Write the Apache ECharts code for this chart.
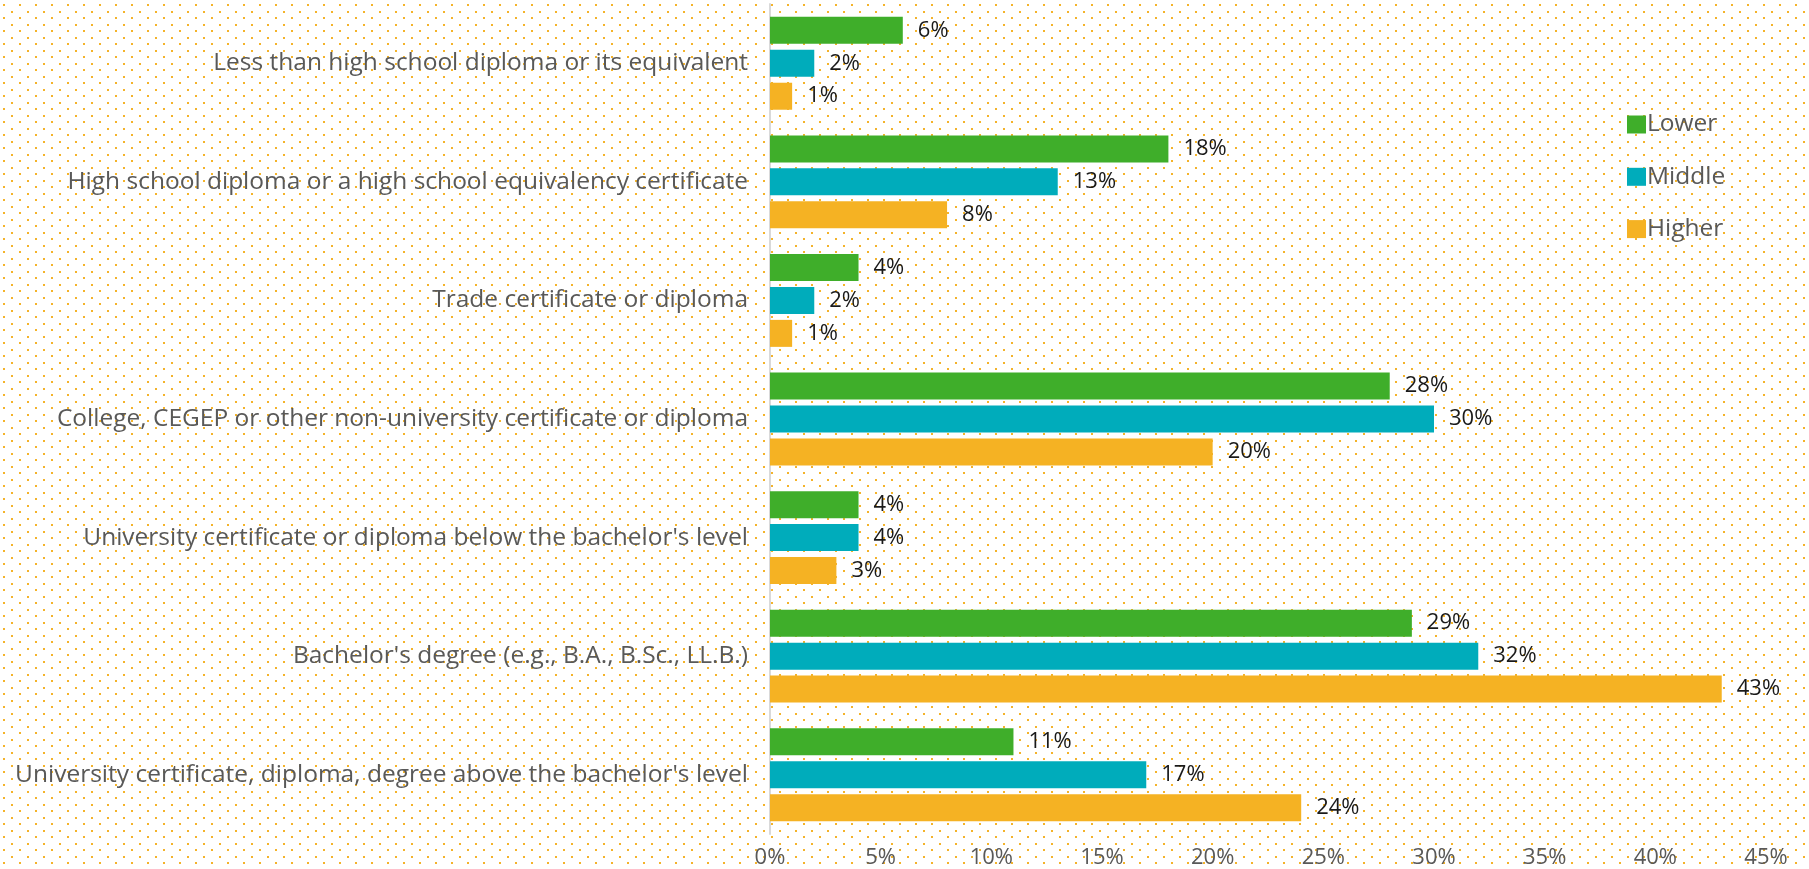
<!DOCTYPE html>
<html>
<head>
<meta charset="utf-8">
<script src="https://cdn.jsdelivr.net/npm/echarts@6/dist/echarts.min.js"></script>
<style>
html,body{margin:0;padding:0;background:#fff;}
#chart{width:1809px;height:869px;}
</style>
</head>
<body>
<div id="chart"></div>
<script>
var categories = [
  "Less than high school diploma or its equivalent",
  "High school diploma or a high school equivalency certificate",
  "Trade certificate or diploma",
  "College, CEGEP or other non-university certificate or diploma",
  "University certificate or diploma below the bachelor's level",
  "Bachelor's degree (e.g., B.A., B.Sc., LL.B.)",
  "University certificate, diploma, degree above the bachelor's level"
];
var seriesNames = ["Lower", "Middle", "Higher"];
var lowerValues = [6, 18, 4, 28, 4, 29, 11];
var middleValues = [2, 13, 2, 30, 4, 32, 17];
var higherValues = [1, 8, 1, 20, 3, 43, 24];
var colors = ["#3fae2a", "#00acbb", "#f5b223"];

// dotted background
var tile = document.createElement('canvas');
tile.width = 16; tile.height = 13;
var tctx = tile.getContext('2d');
tctx.fillStyle = '#f4b32a';
tctx.fillRect(3, 4, 2, 2);
tctx.fillRect(11, 11, 2, 2);
var chartEl = document.getElementById('chart');
chartEl.style.backgroundImage = 'url(' + tile.toDataURL() + ')';
chartEl.style.backgroundRepeat = 'repeat';

var font = 'Open Sans';
var chart = echarts.init(chartEl, null, {renderer: 'canvas'});
var dataSets = [lowerValues, middleValues, higherValues];
var series = dataSets.map(function (vals, i) {
  return {
    name: seriesNames[i],
    type: 'bar',
    data: vals,
    barWidth: 27,
    barGap: '22%',
    itemStyle: {color: colors[i]},
    label: {
      show: true,
      position: 'right',
      distance: 15,
      formatter: '{c}%',
      color: '#1a1a1a',
      fontFamily: font,
      fontSize: 22
    }
  };
});

chart.setOption({
  backgroundColor: 'transparent',
  animation: false,
  textStyle: {fontFamily: font},
  legend: {
    orient: 'vertical',
    left: 1622,
    top: 107,
    itemWidth: 19,
    itemHeight: 18,
    itemGap: 27.3,
    icon: 'rect',
    data: seriesNames,
    textStyle: {color: '#595959', fontSize: 24.5, lineHeight: 20, fontFamily: font, padding: [0, 0, 0, -4]}
  },
  grid: {left: 770, right: 43, top: 4, bottom: 35, containLabel: false},
  xAxis: {
    type: 'value',
    min: 0,
    max: 45,
    interval: 5,
    axisLabel: {
      formatter: '{value}%',
      color: '#595959',
      fontSize: 22,
      fontFamily: font,
      margin: 13
    },
    splitLine: {show: false},
    axisLine: {show: false},
    axisTick: {show: false}
  },
  yAxis: {
    type: 'category',
    inverse: true,
    data: categories,
    axisLabel: {
      color: '#595959',
      fontSize: 24.5,
      fontFamily: font,
      margin: 22
    },
    axisLine: {show: true, lineStyle: {color: '#d9d9d9', width: 2}},
    axisTick: {show: false}
  },
  series: series
});
</script>
</body>
</html>
